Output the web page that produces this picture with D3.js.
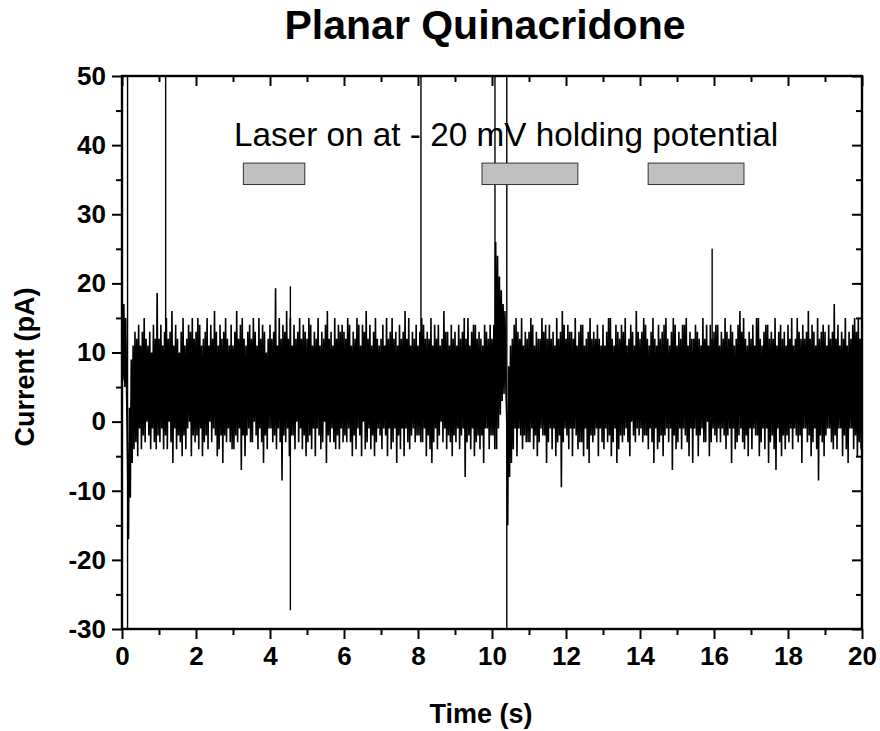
<!DOCTYPE html>
<html>
<head>
<meta charset="utf-8">
<script src="https://cdn.jsdelivr.net/npm/d3@7"></script>
<style>
  html, body { margin: 0; padding: 0; background: #fff; }
  svg { display: block; }
  text { font-family: "Liberation Sans", Arial, Helvetica, sans-serif; fill: #000; }
</style>
</head>
<body>
<svg id="chart" width="880" height="731"></svg>
<script>
// ---------- DATA ----------
const title = "Planar Quinacridone";
const xLabel = "Time (s)";
const yLabel = "Current (pA)";
const annotation = "Laser on at - 20 mV holding potential";

const xMajorTicks = [0, 2, 4, 6, 8, 10, 12, 14, 16, 18, 20];
const xMinorTicks = [1, 3, 5, 7, 9, 11, 13, 15, 17, 19];
const yMajorTicks = [-30, -20, -10, 0, 10, 20, 30, 40, 50];
const yMinorTicks = [-25, -15, -5, 5, 15, 25, 35, 45];

// trace: local maximum / minimum of the current in each 0.05 s window (pA)
const binWidth = 0.05;
const traceMax = [
  18,17,15,-6,2,9,11,13,12,14,11,13,15,12,11,13,10,14,12,18.6,
  12,14,11,13,15,12,13,16,11,14,12,10,13,15,11,12,14,13,15,12,
  13,15,14,11,12,13,15,11,14,12,16,13,11,14,12,13,15,12,11,14,
  11,13,16,12,14,15,12,11,13,14,12,15,13,11,15,12,14,13,10,12,
  14,12,13,19.3,11,15,12,14,13,16,12,15,11,14,12,13,15,12,14,13,
  12,15,14,11,13,12,15,11,13,12,14,16,12,13,11,15,12,14,13,14,
  13,12,15,14,11,13,12,15,14,11,14,13,16,12,14,11,13,15,12,11,
  12,14,11,15,12,13,15,12,13,11,14,12,13,16,12,15,11,13,12,14,
  11,13,15,14,12,13,12,15,11,14,12,14,11,12,16,13,13,11,14,12,
  13,11,14,12,13,15,12,15,11,13,14,14,12,13,12,11,14,13,12,14,
  12,14,26,24,21,19,17,16,0,8,11,12,14,15,13,12,15,11,13,12,
  13,15,14,11,13,12,12,15,13,14,12,14,12,13,11,15,12,13,16,14,
  12,14,13,13,12,15,11,13,14,14,11,12,13,15,12,13,12,14,12,11,
  14,11,13,15,15,12,11,14,13,12,14,13,15,11,12,14,13,11,16,13,
  12,13,15,14,12,11,13,15,12,11,14,12,13,14,15,12,11,13,15,14,
  11,13,12,14,14,15,11,13,12,12,14,13,12,11,15,12,14,11,14,12,
  13,14,14,11,13,12,15,13,12,14,13,11,12,14,16,13,15,12,11,13,
  12,14,11,15,15,12,11,13,14,14,12,13,12,15,11,13,14,12,13,11,
  14,12,15,11,12,15,13,12,14,12,13,16,12,14,13,11,15,12,13,14,
  13,11,14,12,13,17,12,14,11,13,12,15,11,13,12,14,15,13,15,12
];
const traceMin = [
  6,5,4,-17,-11,-6,-4,-3,-5,-1,-4,-2,-3,0,-2,-4,-1,-3,-4,-2,
  -3,-1,-4,-2,-4,0,-3,-6,-1,-4,-2,-3,-5,-2,-4,-1,0,-5,-2,-3,
  -2,-4,-1,-5,-3,-2,-4,0,-3,-1,-2,-5,-4,-2,-6,-2,-3,-1,-3,-4,
  -4,-2,-3,-1,-7,-2,-5,-2,-1,-3,-3,0,-2,-4,-1,-3,-6,-2,-4,-1,
  -1,-3,-2,-4,-1,-3,-8.5,-2,-3,-1,-5,-2,-2,-4,0,-3,-1,-4,-2,-5,
  -3,-2,-4,-1,-5,-1,-2,-4,-3,0,-6,-2,-3,-1,-3,-4,-2,-4,-1,-3,
  -2,-3,-1,-3,-5,-2,-4,-1,-2,-5,0,-4,-3,-1,-4,-2,-5,-3,-1,-2,
  -4,-1,-2,-5,-1,-4,-3,-1,-6,-2,-4,-1,-5,-1,-3,-4,-2,-1,-3,-2,
  -2,-3,-3,-1,-5,-2,-4,-6,-3,-1,-4,-2,0,-3,-1,-4,-2,-3,-5,-2,
  -3,-1,-4,-2,-1,-8,-3,-2,-4,-1,-5,-3,-2,-4,-2,-6,-1,-1,-4,-2,
  -2,-4,-4,-1,1,3,4,5,-15,-8,-6,-4,-1,-5,-1,-2,-4,-2,-3,-3,
  -3,-1,-4,-2,-5,-3,-1,-2,-2,-6,-3,-1,-4,-1,-5,-3,-2,-9.5,-3,-1,
  -2,-4,-1,-5,-1,-2,-4,-3,-3,-5,-1,-4,-6,-2,-3,-2,-1,-5,-1,-3,
  -4,-1,-3,-2,-5,-3,-1,-6,-4,-2,-3,-2,-1,-3,-5,0,-2,-3,-1,-2,
  -1,-3,-2,-2,-4,-1,-3,-6,-1,-4,-3,-2,-5,-2,-1,-3,-1,-7,-2,-4,
  -3,-1,-4,-1,-2,-3,-5,-1,-6,-1,-2,-5,-2,-1,-3,-3,0,-5,-3,-1,
  -2,-3,-1,-3,-1,-2,-4,-2,-1,-6,-1,-4,-3,-2,-1,-3,-4,-2,-5,-1,
  -4,-1,-2,-2,-5,-3,-1,-4,-1,-6,-3,-2,-4,-7,-1,-3,-5,-2,-4,-2,
  -3,-1,-4,-1,-2,-3,-2,-6,-1,-1,-3,-2,-5,-3,-1,-4,-8.5,-2,-3,-5,
  -2,-1,-1,-3,-4,-2,-4,-1,-1,-5,-2,-4,-6,-1,-1,-4,-2,-5,-3,-4
];

// isolated spikes (s, pA)
const spikeTime = [0.15, 1.18, 4.55, 8.08, 10.08, 10.40, 15.95];
const spikeLow  = [-31, 10, -27.3, 10, 10, -31, 5];
const spikeHigh = [55, 55, 19.6, 55, 55, 55, 25];

// laser-on periods (s) and bar position (pA)
const laserStart = [3.28, 9.73, 14.22];
const laserEnd   = [4.94, 12.32, 16.81];
const laserBarTop = 37.4, laserBarBottom = 34.3;

// ---------- LAYOUT ----------
const svg = d3.select("#chart");
const mLeft = 122, mRight = 862, mTop = 76, mBottom = 629;

const x = d3.scaleLinear().domain([0, 20]).range([mLeft, mRight]);
const y = d3.scaleLinear().domain([-30, 50]).range([mBottom, mTop]);

svg.append("defs").append("clipPath").attr("id", "plotclip")
  .append("rect").attr("x", mLeft).attr("y", mTop)
  .attr("width", mRight - mLeft).attr("height", mBottom - mTop);

// ---------- TRACE ----------
const pts = [];
traceMax.forEach((v, i) => {
  pts.push([i * binWidth, v]);
  pts.push([i * binWidth + binWidth / 2, traceMin[i]]);
});
const line = d3.line().x(d => x(d[0])).y(d => y(d[1]));
const plot = svg.append("g").attr("clip-path", "url(#plotclip)");
plot.append("path").datum(pts)
  .attr("d", line).attr("fill", "none")
  .attr("stroke", "#000").attr("stroke-width", 1.6)
  .attr("stroke-linejoin", "miter").attr("stroke-miterlimit", 1);

plot.selectAll("line.spike").data(spikeTime).join("line")
  .attr("class", "spike")
  .attr("x1", d => x(d)).attr("x2", d => x(d))
  .attr("y1", (d, i) => y(spikeLow[i])).attr("y2", (d, i) => y(spikeHigh[i]))
  .attr("stroke", "#000").attr("stroke-width", 1.4);

// ---------- LASER BARS ----------
svg.selectAll("rect.laser").data(laserStart).join("rect")
  .attr("class", "laser")
  .attr("x", d => x(d)).attr("y", y(laserBarTop))
  .attr("width", (d, i) => x(laserEnd[i]) - x(d))
  .attr("height", y(laserBarBottom) - y(laserBarTop))
  .attr("fill", "#c0c0c0").attr("stroke", "#333").attr("stroke-width", 1);

svg.append("text").attr("x", 234).attr("y", 146)
  .attr("font-size", 33.3).text(annotation);

// ---------- AXES ----------
const fmt = d => String(d);
function styleAxis(g) {
  g.select(".domain").remove();
  g.selectAll(".tick line").attr("stroke", "#000").attr("stroke-width", 2);
  g.selectAll(".tick text").attr("font-size", 26).attr("font-weight", "bold")
    .attr("font-family", "'Liberation Sans', Arial, sans-serif").attr("fill", "#000");
}
// bottom
svg.append("g").attr("transform", `translate(0,${mBottom})`)
  .call(d3.axisBottom(x).tickValues(xMajorTicks).tickSize(10).tickPadding(8).tickFormat(fmt))
  .call(styleAxis);
svg.append("g").attr("transform", `translate(0,${mBottom})`)
  .call(d3.axisBottom(x).tickValues(xMinorTicks).tickSize(6).tickFormat(""))
  .call(styleAxis);
// top (inward)
svg.append("g").attr("transform", `translate(0,${mTop})`)
  .call(d3.axisBottom(x).tickValues(xMajorTicks).tickSize(10).tickFormat(""))
  .call(styleAxis);
svg.append("g").attr("transform", `translate(0,${mTop})`)
  .call(d3.axisBottom(x).tickValues(xMinorTicks).tickSize(6).tickFormat(""))
  .call(styleAxis);
// left
svg.append("g").attr("transform", `translate(${mLeft},0)`)
  .call(d3.axisLeft(y).tickValues(yMajorTicks).tickSize(10).tickPadding(6).tickFormat(fmt))
  .call(styleAxis);
svg.append("g").attr("transform", `translate(${mLeft},0)`)
  .call(d3.axisLeft(y).tickValues(yMinorTicks).tickSize(6).tickFormat(""))
  .call(styleAxis);
// right (inward)
svg.append("g").attr("transform", `translate(${mRight},0)`)
  .call(d3.axisLeft(y).tickValues(yMajorTicks).tickSize(10).tickFormat(""))
  .call(styleAxis);
svg.append("g").attr("transform", `translate(${mRight},0)`)
  .call(d3.axisLeft(y).tickValues(yMinorTicks).tickSize(6).tickFormat(""))
  .call(styleAxis);

// frame
svg.append("rect").attr("x", mLeft).attr("y", mTop)
  .attr("width", mRight - mLeft).attr("height", mBottom - mTop)
  .attr("fill", "none").attr("stroke", "#000").attr("stroke-width", 2.4);

// ---------- TITLES ----------
svg.append("text").attr("x", 485).attr("y", 39).attr("text-anchor", "middle")
  .attr("font-size", 41).attr("font-weight", "bold").text(title);
svg.append("text").attr("x", 481).attr("y", 723).attr("text-anchor", "middle")
  .attr("font-size", 27).attr("font-weight", "bold").text(xLabel);
svg.append("text").attr("transform", "translate(34,367) rotate(-90)")
  .attr("text-anchor", "middle")
  .attr("font-size", 27).attr("font-weight", "bold").text(yLabel);
</script>
</body>
</html>
